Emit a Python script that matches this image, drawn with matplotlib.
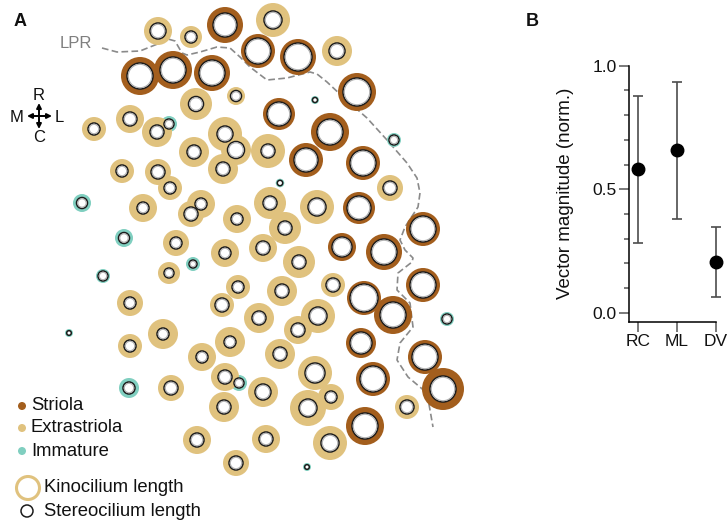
import matplotlib

matplotlib.use("Agg")
import matplotlib.pyplot as plt
from matplotlib.patches import Circle

plt.rcParams["font.family"] = ["Liberation Sans", "DejaVu Sans"]

# panel A: hair-cell map (pixel units of the schematic)
striola_x = [225, 140, 173, 212, 258, 298, 357, 279, 330, 306, 363, 359, 423, 342, 384, 423, 364, 393, 361, 425, 373, 443, 365]
striola_y = [25, 76, 70, 73, 51, 57, 92, 114, 132, 160, 163, 208, 229, 247, 252, 285, 298, 315, 343, 357, 379, 389, 426]
striola_kino = [18, 19, 19, 18, 17, 18, 19, 16, 19, 17, 17, 16, 17, 14, 18, 17, 17, 19, 15, 17, 17, 21, 19]
striola_stereo = [12, 13, 13, 13, 13, 14, 14, 12, 13, 12, 13, 12, 13, 10, 13, 13, 14, 13, 11, 13, 13, 13, 13]

extra_x = [158, 191, 273, 337, 196, 236, 94, 130, 157, 225, 236, 194, 268, 223, 122, 158, 170, 390, 143, 201,
           191, 270, 317, 237, 285, 176, 225, 263, 299, 169, 238, 282, 333, 130, 222, 259, 318, 298, 163, 130,
           230, 202, 280, 225, 315, 171, 263, 224, 308, 331, 407, 197, 266, 330, 236]
extra_y = [31, 37, 20, 51, 104, 96, 129, 119, 132, 134, 150, 152, 151, 169, 171, 172, 188, 188, 208, 204,
           214, 203, 207, 219, 228, 243, 253, 248, 262, 273, 287, 291, 285, 303, 305, 318, 316, 330, 334, 346,
           342, 357, 354, 377, 373, 388, 392, 407, 408, 397, 407, 440, 439, 443, 463]
extra_kino = [14, 11, 17, 15, 16, 9, 12, 14, 15, 17, 15, 15, 17, 15, 12, 13, 12, 13, 14, 14,
              13, 16, 17, 14, 16, 13, 14, 14, 16, 11, 12, 15, 12, 13, 12, 15, 17, 14, 15, 12,
              15, 14, 15, 14, 17, 13, 15, 15, 18, 13, 12, 14, 14, 17, 13]
extra_stereo = [8, 6, 9, 8, 7.5, 5.5, 6, 7, 7, 8, 8.5, 7, 7, 7, 6, 7, 6, 7, 6, 6,
                7, 7, 9, 6, 7, 6, 6, 7, 7, 5, 6, 7, 7, 6, 7, 7, 9, 7, 6, 6,
                6, 6, 7, 7, 10, 7, 8, 7, 9, 6, 7, 7, 7, 9, 7]

immature_x = [169, 82, 124, 315, 394, 280, 103, 193, 69, 239, 129, 447, 307]
immature_y = [124, 203, 238, 100, 140, 183, 276, 264, 333, 383, 388, 319, 467]
immature_kino = [8, 9, 9, 4, 7, 4.3, 7, 7, 4, 8, 10, 7, 4]
immature_stereo = [5, 5.5, 5.5, 2.5, 5, 2.7, 5, 4, 2.3, 5, 6, 5, 2.3]

lpr_x = [102, 117, 140, 160, 168, 175, 182, 187, 200, 217, 230, 240, 250, 267, 287, 310, 317, 327, 343, 367,
         387, 407, 417, 420, 418, 405, 400, 405, 413, 412, 398, 397, 410, 413, 400, 397, 408, 427, 433]
lpr_y = [48, 52, 51, 43, 39, 41, 53, 55, 52, 47, 48, 57, 67, 80, 78, 72, 74, 82, 97, 118,
         140, 163, 178, 193, 207, 227, 240, 250, 258, 262, 273, 290, 303, 327, 343, 360, 377, 393, 427]

# panel B: vector magnitude
axes_names = ["RC", "ML", "DV"]
magnitude = [0.581, 0.659, 0.206]
err_high = [0.876, 0.935, 0.348]
err_low = [0.283, 0.379, 0.065]

BROWN = "#a35e1d"
TAN = "#e0c27e"
TEAL = "#80cfc0"
INK = "#111111"

fig = plt.figure(figsize=(7.27, 5.23), dpi=100)
ax = fig.add_axes([0, 0, 1, 1])
ax.set_xlim(0, 727)
ax.set_ylim(523, 0)
ax.set_aspect("equal")
ax.axis("off")

ax.plot(lpr_x, lpr_y, color="#8a8a8a", lw=1.2, dashes=(4, 2), zorder=1)

groups = [
    (immature_x, immature_y, immature_kino, TEAL),
    (extra_x, extra_y, extra_kino, TAN),
    (striola_x, striola_y, striola_kino, BROWN),
]
for xs, ys, rs, col in groups:
    for x, y, r in zip(xs, ys, rs):
        ax.add_patch(Circle((x, y), r, facecolor=col, edgecolor="none", zorder=2))
for xs, ys, rs in [(immature_x, immature_y, immature_stereo),
                   (extra_x, extra_y, extra_stereo),
                   (striola_x, striola_y, striola_stereo)]:
    for x, y, r in zip(xs, ys, rs):
        ax.add_patch(Circle((x, y), r, facecolor="white", edgecolor="#1c1c1c", lw=1.1, zorder=3))
        if r > 3:
            ax.add_patch(Circle((x, y), r - 1.3, facecolor="none", edgecolor="#b0b0b0", lw=0.8, zorder=3))

ax.text(20, 22, "A", fontsize=13, fontweight="bold", color=INK, ha="center", va="center")
ax.text(76, 43, "LPR", fontsize=12, color="#7f7f7f", ha="center", va="center")

# orientation cross
ax.annotate("", xy=(27, 116), xytext=(52, 116),
            arrowprops=dict(arrowstyle="<|-|>", color="black", lw=1.4, mutation_scale=7, shrinkA=0, shrinkB=0))
ax.annotate("", xy=(39, 103), xytext=(39, 129),
            arrowprops=dict(arrowstyle="<|-|>", color="black", lw=1.4, mutation_scale=7, shrinkA=0, shrinkB=0))
ax.text(39, 95, "R", fontsize=12, color=INK, ha="center", va="center")
ax.text(39, 138, "C", fontsize=12, color=INK, ha="center", va="center")
ax.text(17, 117, "M", fontsize=12, color=INK, ha="center", va="center")
ax.text(59, 117, "L", fontsize=12, color=INK, ha="center", va="center")

# legend
for yy, col, lab in [(406, BROWN, "Striola"), (428, TAN, "Extrastriola"), (451, TEAL, "Immature")]:
    ax.add_patch(Circle((22, yy), 4, facecolor=col, edgecolor="none"))
    ax.text(31, yy, lab, fontsize=13.3, color=INK, ha="left", va="center")
ax.add_patch(Circle((28, 488), 11.5, facecolor="white", edgecolor=TAN, lw=2.2))
ax.text(44, 488, "Kinocilium length", fontsize=13.3, color=INK, ha="left", va="center")
ax.add_patch(Circle((27, 511), 6, facecolor="white", edgecolor="#1c1c1c", lw=1.1))
ax.text(44, 511, "Stereocilium length", fontsize=13.3, color=INK, ha="left", va="center")

ax.text(532, 21, "B", fontsize=13, fontweight="bold", color=INK, ha="center", va="center")

# panel B
bx = fig.add_axes([629 / 727, 0.3849, 86.7 / 727, 0.4895])
pos = list(range(len(axes_names)))
lower = [m - lo for m, lo in zip(magnitude, err_low)]
upper = [hi - m for m, hi in zip(magnitude, err_high)]
bx.errorbar(pos, magnitude, yerr=[lower, upper], fmt="o", color="black", ms=9,
            ecolor="#4d4d4d", elinewidth=1.2, capsize=3.3, capthick=1.2, clip_on=False, zorder=3)
bx.set_xlim(-0.24, 2.0)
bx.set_ylim(-0.036, 1.0)
bx.set_xticks(pos, labels=axes_names)
bx.set_yticks([0.0, 0.5, 1.0], labels=["0.0", "0.5", "1.0"])
bx.set_yticks([0.1, 0.2, 0.3, 0.4, 0.6, 0.7, 0.8, 0.9], minor=True)
bx.spines["top"].set_visible(False)
bx.spines["right"].set_visible(False)
bx.spines["left"].set_linewidth(1.1)
bx.spines["bottom"].set_linewidth(1.1)
bx.tick_params(axis="both", which="major", length=7, width=1.1, color="#555555", labelsize=12.5,
               labelcolor=INK, pad=2)
bx.tick_params(axis="y", which="minor", length=3.6, width=1.1, color="#555555")
bx.set_ylabel("Vector magnitude (norm.)", fontsize=13.5, color=INK)
bx.yaxis.set_label_coords(-0.64, 0.5)
bx.patch.set_alpha(0)

fig.savefig("out.png", dpi=100)
